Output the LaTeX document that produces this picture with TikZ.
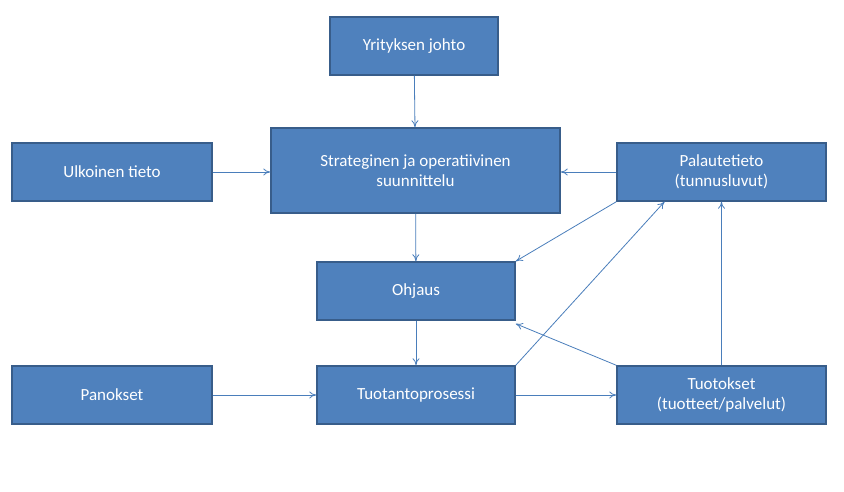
\documentclass[tikz,border=0pt]{standalone}
\usepackage{fontspec}
\setmainfont{Carlito}
\usetikzlibrary{arrows.meta}
\definecolor{boxfill}{HTML}{4F81BD}
\definecolor{boxline}{HTML}{385D8A}
\definecolor{arr}{HTML}{4A7EBB}
\begin{document}
\begin{tikzpicture}[x=1pt,y=-1pt,
  box/.style={draw=boxline,line width=1.5pt,fill=boxfill,text=white,font=\fontsize{17}{20}\selectfont,align=center,inner sep=0pt},
  conn/.style={draw=arr,line width=0.8pt,-{To[length=7pt,width=7pt]}}]
\useasboundingbox (0,0) rectangle (844,492);
\node[box,minimum width=168,minimum height=58] (j) at (414,46) {Yrityksen johto};
\node[box,minimum width=289,minimum height=85] (s) at (415.5,170.5) {Strateginen ja operatiivinen\\suunnittelu};
\node[box,minimum width=200,minimum height=58] (u) at (112,172) {Ulkoinen tieto};
\node[box,minimum width=209,minimum height=58] (p) at (721.5,172) {Palautetieto\\(tunnusluvut)};
\node[box,minimum width=198,minimum height=58] (o) at (416,291) {Ohjaus};
\node[box,minimum width=200,minimum height=58] (pa) at (112,395) {Panokset};
\node[box,minimum width=198,minimum height=58] (t) at (416,395) {Tuotantoprosessi};
\node[box,minimum width=209,minimum height=58] (tu) at (721.5,395) {Tuotokset\\(tuotteet/palvelut)};
\draw[conn] (j) -- (s);
\draw[conn] (u) -- (s.west |- u);
\draw[conn] (p) -- (s.east |- p);
\draw[conn] (s) -- (o);
\draw[conn] (p.south west) -- (o.north east);
\draw[conn] (o) -- (t);
\draw[conn] (pa) -- (t);
\draw[conn] (t) -- (tu);
\draw[conn] (t.north east) -- ([xshift=-57pt]p.south);
\draw[conn] (tu.north west) -- ([yshift=-3pt]o.south east);
\draw[conn] (tu) -- (p);
\end{tikzpicture}
\end{document}
